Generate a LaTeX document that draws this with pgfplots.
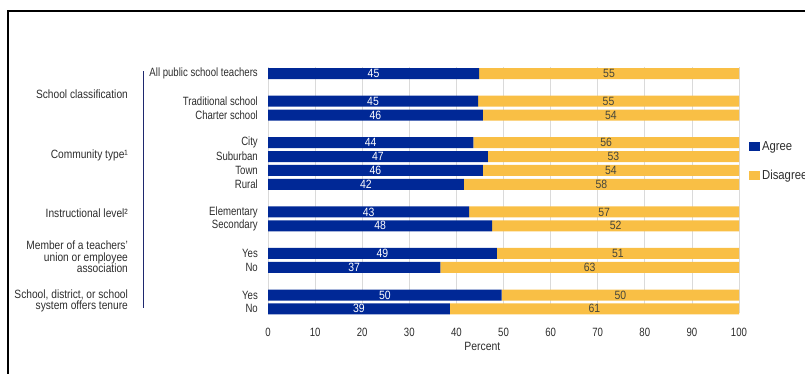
\documentclass[border=0pt]{standalone}
\usepackage{fontspec}
\setmainfont{Liberation Sans}[FakeStretch=0.80]
\newfontfamily\widerfont{Liberation Sans}[FakeStretch=0.87]
\newfontfamily\grpfont{Liberation Sans}[FakeStretch=0.85]
\usepackage{pgfplots}
\pgfplotsset{compat=1.18}
\usepackage{pgfplotstable}
\definecolor{agreeblue}{RGB}{0,40,150}
\definecolor{disyellow}{RGB}{249,191,69}
\definecolor{gridgray}{RGB}{218,218,218}
\definecolor{txtgray}{RGB}{45,45,45}
\definecolor{numgray}{RGB}{70,70,60}
\definecolor{linenavy}{RGB}{30,40,110}
\newcommand{\lab}{\fontsize{12}{13}\selectfont}
\newcommand{\grp}{\grpfont\fontsize{12}{11.6}\selectfont}
\newcommand{\num}{\widerfont\fontsize{12}{13}\selectfont}
\newcommand{\leg}{\widerfont\fontsize{13}{14}\selectfont}

\pgfplotstableread[col sep=comma]{
y,label,agree,disagree,al,dl,ax,dx
0,All public school teachers,44.8,55.2,45,55,22.4,72.4
2,Traditional school,44.6,55.4,45,55,22.3,72.3
3,Charter school,45.6,54.4,46,54,22.8,72.8
5,City,43.6,56.4,44,56,21.8,71.8
6,Suburban,46.7,53.3,47,53,23.35,73.35
7,Town,45.6,54.4,46,54,22.8,72.8
8,Rural,41.6,58.4,42,58,20.8,70.8
10,Elementary,42.7,57.3,43,57,21.35,71.35
11,Secondary,47.6,52.4,48,52,23.8,73.8
13,Yes,48.6,51.4,49,51,24.3,74.3
14,No,36.6,63.4,37,63,18.3,68.3
16,Yes,49.6,50.4,50,50,24.8,74.8
17,No,38.6,61.4,39,61,19.3,69.3
}\data

\begin{document}
\begin{tikzpicture}
\useasboundingbox (0pt,0pt) rectangle (805pt,374pt);
\draw[line width=1.3pt] (8pt,-2pt) -- (8pt,363pt) -- (807pt,363pt);
\begin{axis}[
  at={(268pt,61pt)}, anchor=south west,
  scale only axis, width=471pt, height=246pt,
  xmin=0, xmax=100, ymin=-0.47, ymax=17.3,
  y dir=reverse,
  xbar stacked, bar width=11pt,
  xtick={0,10,...,100},
  xmajorgrids, major grid style={gridgray, line width=0.8pt},
  ytick={0,2,3,5,6,7,8,10,11,13,14,16,17},
  yticklabels from table={\data}{label},
  major tick length=0pt,
  axis line style={draw=none},
  /pgf/number format/assume math mode=true,
  yticklabel style={inner sep=0pt, xshift=-10pt, font=\lab, text=txtgray},
  xticklabel style={inner sep=0pt, yshift=-14.5pt, font=\lab, text=txtgray},
  xlabel={Percent},
  xlabel style={at={(axis description cs:0.455,0)}, anchor=north, inner sep=0pt, yshift=-29pt, font=\num, text=txtgray},
  clip=false,
  legend style={at={(axis description cs:1.021,0.705)}, anchor=north west, draw=none, fill=none, inner sep=0pt, row sep=14pt, font=\leg, text=txtgray},
  legend cell align=left,
  legend image code/.code={\fill[#1, draw=none] (0pt,-4.5pt) rectangle (11pt,4.5pt);},
]
\addplot[fill=agreeblue, draw=none] table[x=agree, y=y]{\data};
\addplot[fill=disyellow, draw=none] table[x=disagree, y=y]{\data};
\legend{Agree, Disagree}
\node[anchor=east, align=right, font=\grp, text=txtgray] at (axis cs:-29,1.48) {School classification};
\node[anchor=east, align=right, font=\grp, text=txtgray] at (axis cs:-29,5.89) {Community type¹};
\node[anchor=east, align=right, font=\grp, text=txtgray] at (axis cs:-29,10.08) {Instructional level²};
\node[anchor=east, align=right, font=\grp, text=txtgray] at (axis cs:-29,13.24) {Member of a teachers’\\union or employee\\association};
\node[anchor=east, align=right, font=\grp, text=txtgray] at (axis cs:-29,16.42) {School, district, or school\\system offers tenure};
\draw[linenavy, line width=0.8pt] (axis cs:-26.5,-0.18) -- (axis cs:-26.5,16.94);
\end{axis}
\begin{axis}[
  at={(268pt,61pt)}, anchor=south west,
  scale only axis, width=471pt, height=246pt,
  xmin=0, xmax=100, ymin=-0.47, ymax=17.3,
  y dir=reverse, hide axis, clip=false,
]
\addplot[draw=none, mark=none, nodes near coords, point meta=explicit symbolic,
  every node near coord/.append style={anchor=center, text=white, font=\num}]
  table[x=ax, y=y, meta=al]{\data};
\addplot[draw=none, mark=none, nodes near coords, point meta=explicit symbolic,
  every node near coord/.append style={anchor=center, text=numgray, font=\num}]
  table[x=dx, y=y, meta=dl]{\data};
\end{axis}
\end{tikzpicture}
\end{document}
